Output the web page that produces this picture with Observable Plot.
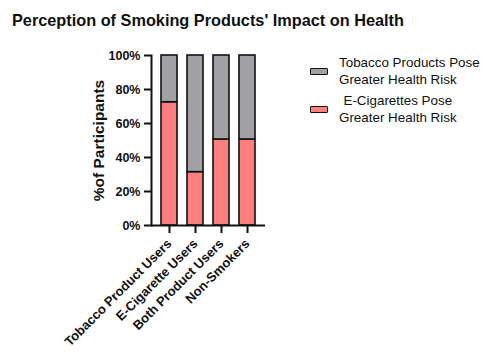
<!DOCTYPE html>
<html>
<head>
<meta charset="utf-8">
<script src="https://cdn.jsdelivr.net/npm/d3@7"></script>
<script src="https://cdn.jsdelivr.net/npm/@observablehq/plot@0.6"></script>
<style>
  html, body { margin: 0; padding: 0; background: #fff; }
  #wrap { position: relative; width: 496px; height: 356px; font-family: "Liberation Sans", Arial, sans-serif; }
  #title { position: absolute; left: 12px; top: 11px; font-size: 16.3px; font-weight: bold; color: #111; white-space: nowrap; }
  .leg { position: absolute; left: 310px; display: flex; align-items: center; font-size: 13.4px; color: #111; }
  .sw { width: 16px; height: 5px; border: 1.5px solid #111; border-radius: 1px; margin-right: 11px; }
  .lt { line-height: 17px; }
</style>
</head>
<body>
<div id="wrap"></div>
<script>
const title = "Perception of Smoking Products' Impact on Health";
const groups = ["Tobacco Product Users", "E-Cigarette Users", "Both Product Users", "Non-Smokers"];
const seriesNames = ["E-Cigarettes Pose Greater Health Risk", "Tobacco Products Pose Greater Health Risk"];
const legendLines = [["Tobacco Products Pose", "Greater Health Risk"], ["E-Cigarettes Pose", "Greater Health Risk"]];
const eCigRisk = [72.5, 31.4, 50.6, 50.6];
const tobaccoRisk = [27.5, 68.6, 49.4, 49.4];
const colors = ["#ff7f7f", "#a1a0a5"];
const yTicks = [0, 20, 40, 60, 80, 100];
const yLabel = "%of Participants";

const rows = [];
groups.forEach((g, i) => {
  rows.push({group: g, series: seriesNames[0], value: eCigRisk[i], order: 0});
  rows.push({group: g, series: seriesNames[1], value: tobaccoRisk[i], order: 1});
});

const chart = Plot.plot({
  width: 496,
  height: 356,
  marginLeft: 151,
  marginRight: 231,
  marginTop: 55,
  marginBottom: 131,
  style: {fontFamily: "Liberation Sans, Arial, sans-serif", fontWeight: "bold", fontSize: "12.5px", color: "#111", background: "#fff"},
  x: {domain: groups, paddingInner: 0.385, paddingOuter: 0.36},
  y: {domain: [0, 100]},
  color: {domain: seriesNames, range: colors},
  marks: [
    Plot.barY(rows, Plot.stackY({order: "order"}, {x: "group", y: "value", fill: "series", stroke: "#111", strokeWidth: 1.6})),
    Plot.axisY({ticks: yTicks, tickFormat: d => d + "%", tickSize: 7, tickPadding: 4, strokeWidth: 2, label: yLabel, labelArrow: "none", labelAnchor: "center", labelOffset: 59, fontSize: 12.5}),
    Plot.axisX({tickSize: 8, tickRotate: -45, tickPadding: 8, strokeWidth: 2, label: null, fontSize: 13}),
    Plot.ruleY([0], {stroke: "#111", strokeWidth: 2}),
    Plot.frame({anchor: "left", stroke: "#111", strokeWidth: 2})
  ]
});

const wrap = document.getElementById("wrap");
wrap.appendChild(chart);
chart.style.position = "absolute";
chart.style.left = "0px";
chart.style.top = "0px";
chart.querySelectorAll("g[aria-label='y-axis label'] text").forEach(t => {
  t.setAttribute("font-size", "15.5");
  t.textContent = yLabel;
});

const t = document.createElement("div");
t.id = "title";
t.textContent = title;
wrap.appendChild(t);

const legTops = [54, 92];
const legColors = [colors[1], colors[0]];
const legAlign = ["left", "center"];
legendLines.forEach((lines, i) => {
  const d = document.createElement("div");
  d.className = "leg";
  d.style.top = legTops[i] + "px";
  const sw = document.createElement("div");
  sw.className = "sw";
  sw.style.background = legColors[i];
  const lt = document.createElement("div");
  lt.className = "lt";
  lt.style.textAlign = legAlign[i];
  lt.innerHTML = lines.join("<br>");
  d.appendChild(sw);
  d.appendChild(lt);
  wrap.appendChild(d);
});
</script>
</body>
</html>
